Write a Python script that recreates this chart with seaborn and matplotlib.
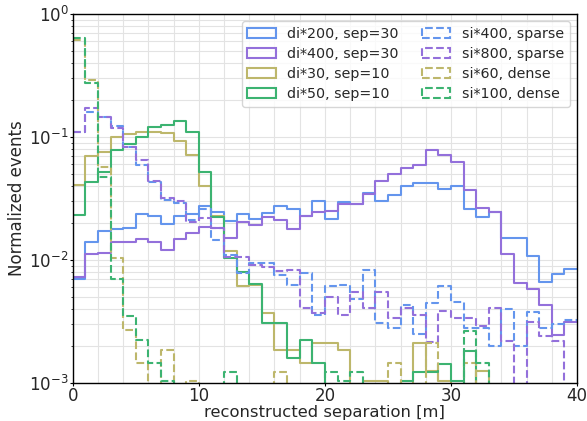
import numpy as np
import pandas as pd
import matplotlib
matplotlib.use("Agg")
import matplotlib.pyplot as plt
from matplotlib.patches import Patch
import seaborn as sns

bin_edges = list(range(0, 41))

di200_sep30 = [0.0070, 0.0139, 0.0171, 0.0178, 0.0183, 0.0237, 0.0229, 0.0195, 0.0229, 0.0237,
               0.0277, 0.0247, 0.0207, 0.0237, 0.0214, 0.0240, 0.0275, 0.0258, 0.0230, 0.0303,
               0.0216, 0.0294, 0.0284, 0.0350, 0.0302, 0.0338, 0.0400, 0.0420, 0.0420, 0.0378,
               0.0400, 0.0258, 0.0225, 0.0244, 0.0150, 0.0150, 0.0107, 0.0066, 0.0077, 0.0085]
di400_sep30 = [0.0073, 0.0111, 0.0115, 0.0141, 0.0139, 0.0149, 0.0139, 0.0120, 0.0147, 0.0165,
               0.0187, 0.0181, 0.0150, 0.0203, 0.0193, 0.0225, 0.0210, 0.0179, 0.0226, 0.0244,
               0.0252, 0.0283, 0.0283, 0.0341, 0.0439, 0.0500, 0.0557, 0.0590, 0.0790, 0.0714,
               0.0622, 0.0370, 0.0263, 0.0247, 0.0113, 0.0065, 0.0058, 0.0043, 0.00245, 0.00315]
di30_sep10 = [0.041, 0.070, 0.075, 0.100, 0.105, 0.109, 0.110, 0.108, 0.093, 0.071,
              0.040, 0.023, 0.0119, 0.0061, 0.0063, 0.0037, 0.00187, 0.00187, 0.00146, 0.0021,
              0.0021, 0.00187, 0.0, 0.00104, 0.00104, 0.0, 0.0, 0.0021, 0.00125, 0.00104,
              0.0, 0.0, 0.00125, 0.0, 0.0, 0.0, 0.0, 0.0, 0.0, 0.0]
di50_sep10 = [0.0234, 0.0433, 0.052, 0.078, 0.087, 0.100, 0.120, 0.125, 0.135, 0.109,
              0.052, 0.0222, 0.0103, 0.0080, 0.0064, 0.0031, 0.0031, 0.0016, 0.00226, 0.00146,
              0.0, 0.0, 0.0, 0.0, 0.0, 0.0, 0.00104, 0.00124, 0.00124, 0.00144,
              0.00104, 0.00183, 0.0, 0.0, 0.0, 0.0, 0.0, 0.0, 0.0, 0.0]
si400_sparse = [0.110, 0.159, 0.146, 0.123, 0.083, 0.059, 0.043, 0.031, 0.029, 0.021,
                0.026, 0.0145, 0.011, 0.0078, 0.0095, 0.0094, 0.0076, 0.0063, 0.0078, 0.0036,
                0.0061, 0.0063, 0.0048, 0.0083, 0.0031, 0.0028, 0.0043, 0.0025, 0.0045, 0.0061,
                0.0046, 0.0028, 0.0028, 0.0020, 0.0040, 0.0020, 0.0038, 0.0028, 0.0030, 0.00325]
si800_sparse = [0.110, 0.171, 0.146, 0.118, 0.083, 0.0645, 0.044, 0.032, 0.030, 0.0202,
                0.0218, 0.0181, 0.0106, 0.0105, 0.0091, 0.0088, 0.0082, 0.0083, 0.0041, 0.0037,
                0.0050, 0.0036, 0.0055, 0.0041, 0.0055, 0.0034, 0.0041, 0.0036, 0.00214, 0.00385,
                0.0034, 0.0034, 0.0029, 0.0041, 0.0022, 0.0, 0.00315, 0.0024, 0.0022, 0.0]
si60_dense = [0.61, 0.29, 0.057, 0.0104, 0.0027, 0.00146, 0.0, 0.00186, 0.0, 0.00104,
              0.0, 0.0, 0.0, 0.0, 0.0, 0.0, 0.00124, 0.0, 0.0, 0.0,
              0.0, 0.0, 0.0, 0.0, 0.0, 0.00145, 0.0, 0.0, 0.0021, 0.0,
              0.0, 0.00145, 0.0, 0.0, 0.0, 0.0, 0.0, 0.0, 0.0, 0.0]
si100_dense = [0.64, 0.277, 0.047, 0.0070, 0.0035, 0.00224, 0.00145, 0.00104, 0.0, 0.0,
               0.0, 0.0, 0.00124, 0.0, 0.0, 0.0, 0.0, 0.0, 0.0, 0.0,
               0.00124, 0.00104, 0.00124, 0.0, 0.0, 0.0, 0.0, 0.0, 0.0, 0.0,
               0.0, 0.00265, 0.00145, 0.0, 0.0, 0.0, 0.0, 0.0, 0.0, 0.0]

series_labels = ["di*200, sep=30", "di*400, sep=30", "di*30, sep=10", "di*50, sep=10",
                 "si*400, sparse", "si*800, sparse", "si*60, dense", "si*100, dense"]
series_values = [di200_sep30, di400_sep30, di30_sep10, di50_sep10,
                 si400_sparse, si800_sparse, si60_dense, si100_dense]
colors = ["cornflowerblue", "mediumpurple", "darkkhaki", "mediumseagreen"] * 2
styles = ["-"] * 4 + ["--"] * 4

sns.set_style("ticks")
plt.rcParams["font.family"] = ["DejaVu Sans"]

fig = plt.figure(figsize=(5.87, 4.21), dpi=100)
ax = fig.add_axes([0.124, 0.090, 0.859, 0.877])

edges = np.array(bin_edges, dtype=float)
centers = (edges[:-1] + edges[1:]) / 2
nbins = len(edges) - 1
for lab, vals, c, ls in zip(series_labels, series_values, colors, styles):
    df = pd.DataFrame({"x": centers, "w": vals})
    sns.histplot(data=df, x="x", weights="w", bins=nbins,
                 binrange=(edges[0], edges[-1]), element="step", fill=False,
                 color=c, linestyle=ls, linewidth=1.5, ax=ax)

ax.set_yscale("log")
ax.set_ylim(1e-3, 1)
ax.set_xlim(0, 40)
ax.set_xticks([0, 10, 20, 30, 40])
ax.xaxis.set_minor_locator(matplotlib.ticker.MultipleLocator(2))
ax.grid(which="both", color="#e3e3e3", linewidth=0.8)
ax.set_axisbelow(True)
ax.tick_params(axis="both", which="major", labelsize=12, length=2, pad=1, color="black")
ax.tick_params(axis="y", which="minor", length=1.5)
ax.tick_params(axis="x", which="minor", length=0)
for s in ax.spines.values():
    s.set_color("black")
    s.set_linewidth(1.0)
ax.set_xlabel("reconstructed separation [m]", fontsize=11.8, labelpad=0)
ax.set_ylabel("Normalized events", fontsize=12, labelpad=2)

handles = [Patch(facecolor="none", edgecolor=c, linestyle=ls, linewidth=1.5, label=lab)
           for lab, c, ls in zip(series_labels, colors, styles)]
ax.legend(handles=handles, ncol=2, loc="upper right", fontsize=10.3, framealpha=0.8,
          columnspacing=1.6, borderpad=0.4, labelspacing=0.42)

fig.savefig("out.png", dpi=100)
